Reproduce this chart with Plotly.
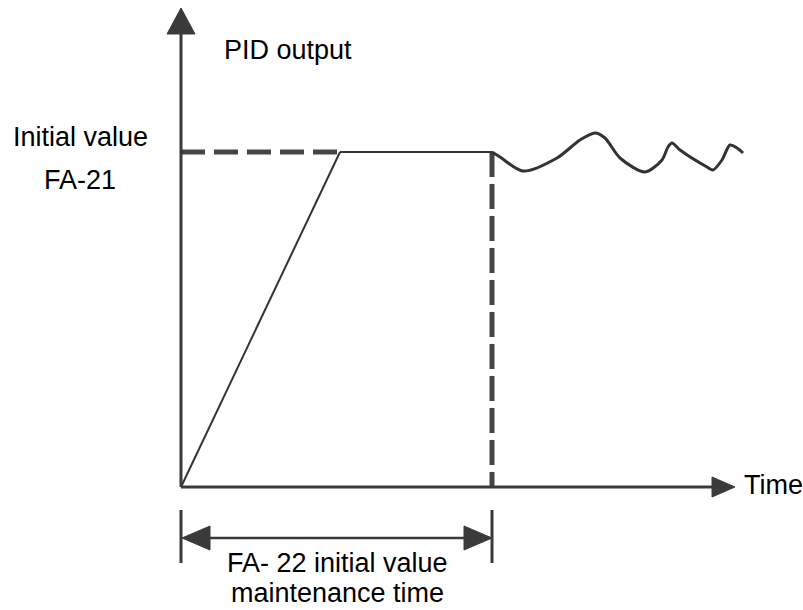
import plotly.graph_objects as go

# ---- data (time units on x, output units on y; origin at 0,0) ----
initial_value = 335          # FA-21 level
hold_time = 311              # FA-22 maintenance time
ramp_end_time = 159          # time when ramp reaches the initial value
ramp_t = [0, ramp_end_time]
ramp_y = [0, initial_value]
flat_t = [ramp_end_time, hold_time]
wave_t = [311, 319, 342, 376, 399, 414, 424, 439, 464, 481, 487, 491, 499, 526, 532, 541, 549, 556, 562]
wave_y = [335, 330, 316, 329, 347, 354, 349, 329, 315, 327, 340, 344, 337, 320, 317, 327, 342, 339, 334]

x_axis_end = 554
y_axis_end = 479

AX = "#3a3a3a"
LN = "#333333"
FONT = "Liberation Sans, Arial, sans-serif"
FS = 27

fig = go.Figure()

# dashed initial-value reference
fig.add_trace(go.Scatter(x=[0, ramp_end_time], y=[initial_value, initial_value], mode="lines",
                         line=dict(color="#444444", width=5, dash="24px,9px"), hoverinfo="skip"))
# vertical dashed at end of hold time
fig.add_trace(go.Scatter(x=[hold_time, hold_time], y=[initial_value, 0], mode="lines",
                         line=dict(color="#444444", width=5, dash="25px,7px"), hoverinfo="skip"))
# ramp
fig.add_trace(go.Scatter(x=ramp_t, y=ramp_y, mode="lines", line=dict(color=LN, width=2), hoverinfo="skip"))
# flat hold
fig.add_trace(go.Scatter(x=flat_t, y=[initial_value, initial_value], mode="lines",
                         line=dict(color=LN, width=2), hoverinfo="skip"))
# PID regulation wave
fig.add_trace(go.Scatter(x=wave_t, y=wave_y, mode="lines", line=dict(color=LN, width=3, shape="spline", smoothing=0.8),
                         hoverinfo="skip"))

shapes = []
# axes
shapes.append(dict(type="line", x0=0, y0=0, x1=0, y1=y_axis_end - 20, line=dict(color=AX, width=3)))
shapes.append(dict(type="line", x0=0, y0=0, x1=x_axis_end - 20, y1=0, line=dict(color=AX, width=3)))
# arrow heads
shapes.append(dict(type="path", path=f"M -14 {y_axis_end-26} L 0 {y_axis_end} L 14 {y_axis_end-26} Z",
                   fillcolor=AX, line=dict(color=AX, width=1)))
shapes.append(dict(type="path", path=f"M {x_axis_end-23} -10 L {x_axis_end} 0 L {x_axis_end-23} 10 Z",
                   fillcolor=AX, line=dict(color=AX, width=1)))
# dimension line for hold time
dim_y = -51
shapes.append(dict(type="line", x0=0, y0=-23, x1=0, y1=-76, line=dict(color=AX, width=3)))
shapes.append(dict(type="line", x0=hold_time, y0=-23, x1=hold_time, y1=-76, line=dict(color=AX, width=3)))
shapes.append(dict(type="line", x0=20, y0=dim_y, x1=hold_time - 20, y1=dim_y, line=dict(color=AX, width=2.5)))
shapes.append(dict(type="path", path=f"M 1 {dim_y} L 29 {dim_y-12} L 29 {dim_y+12} Z",
                   fillcolor=AX, line=dict(color=AX, width=1)))
shapes.append(dict(type="path", path=f"M {hold_time} {dim_y} L {hold_time-28} {dim_y-12} L {hold_time-28} {dim_y+12} Z",
                   fillcolor=AX, line=dict(color=AX, width=1)))

def txt(x, y, s, xanchor="center"):
    return dict(x=x, y=y, text=s, showarrow=False, xanchor=xanchor, yanchor="middle",
                font=dict(family=FONT, size=FS, color="#000000"))

annotations = [
    txt(41, 437, "PID output", "left"),
    txt(-101, 350, "Initial value"),
    txt(-101, 307, "FA-21"),
    txt(561, 2, "Time", "left"),
    txt(156, -76, "FA- 22 initial value"),
    txt(156, -106, "maintenance time"),
]

fig.update_layout(
    width=803, height=610, autosize=False,
    margin=dict(l=0, r=0, t=0, b=0),
    paper_bgcolor="white", plot_bgcolor="white",
    showlegend=False,
    shapes=shapes, annotations=annotations,
    xaxis=dict(range=[-181, 622], visible=False, fixedrange=True),
    yaxis=dict(range=[-123, 487], visible=False, fixedrange=True),
)

fig.write_html("out.html", config={"displayModeBar": False},
               post_script="document.body.style.margin='0';document.body.style.overflow='hidden';")
